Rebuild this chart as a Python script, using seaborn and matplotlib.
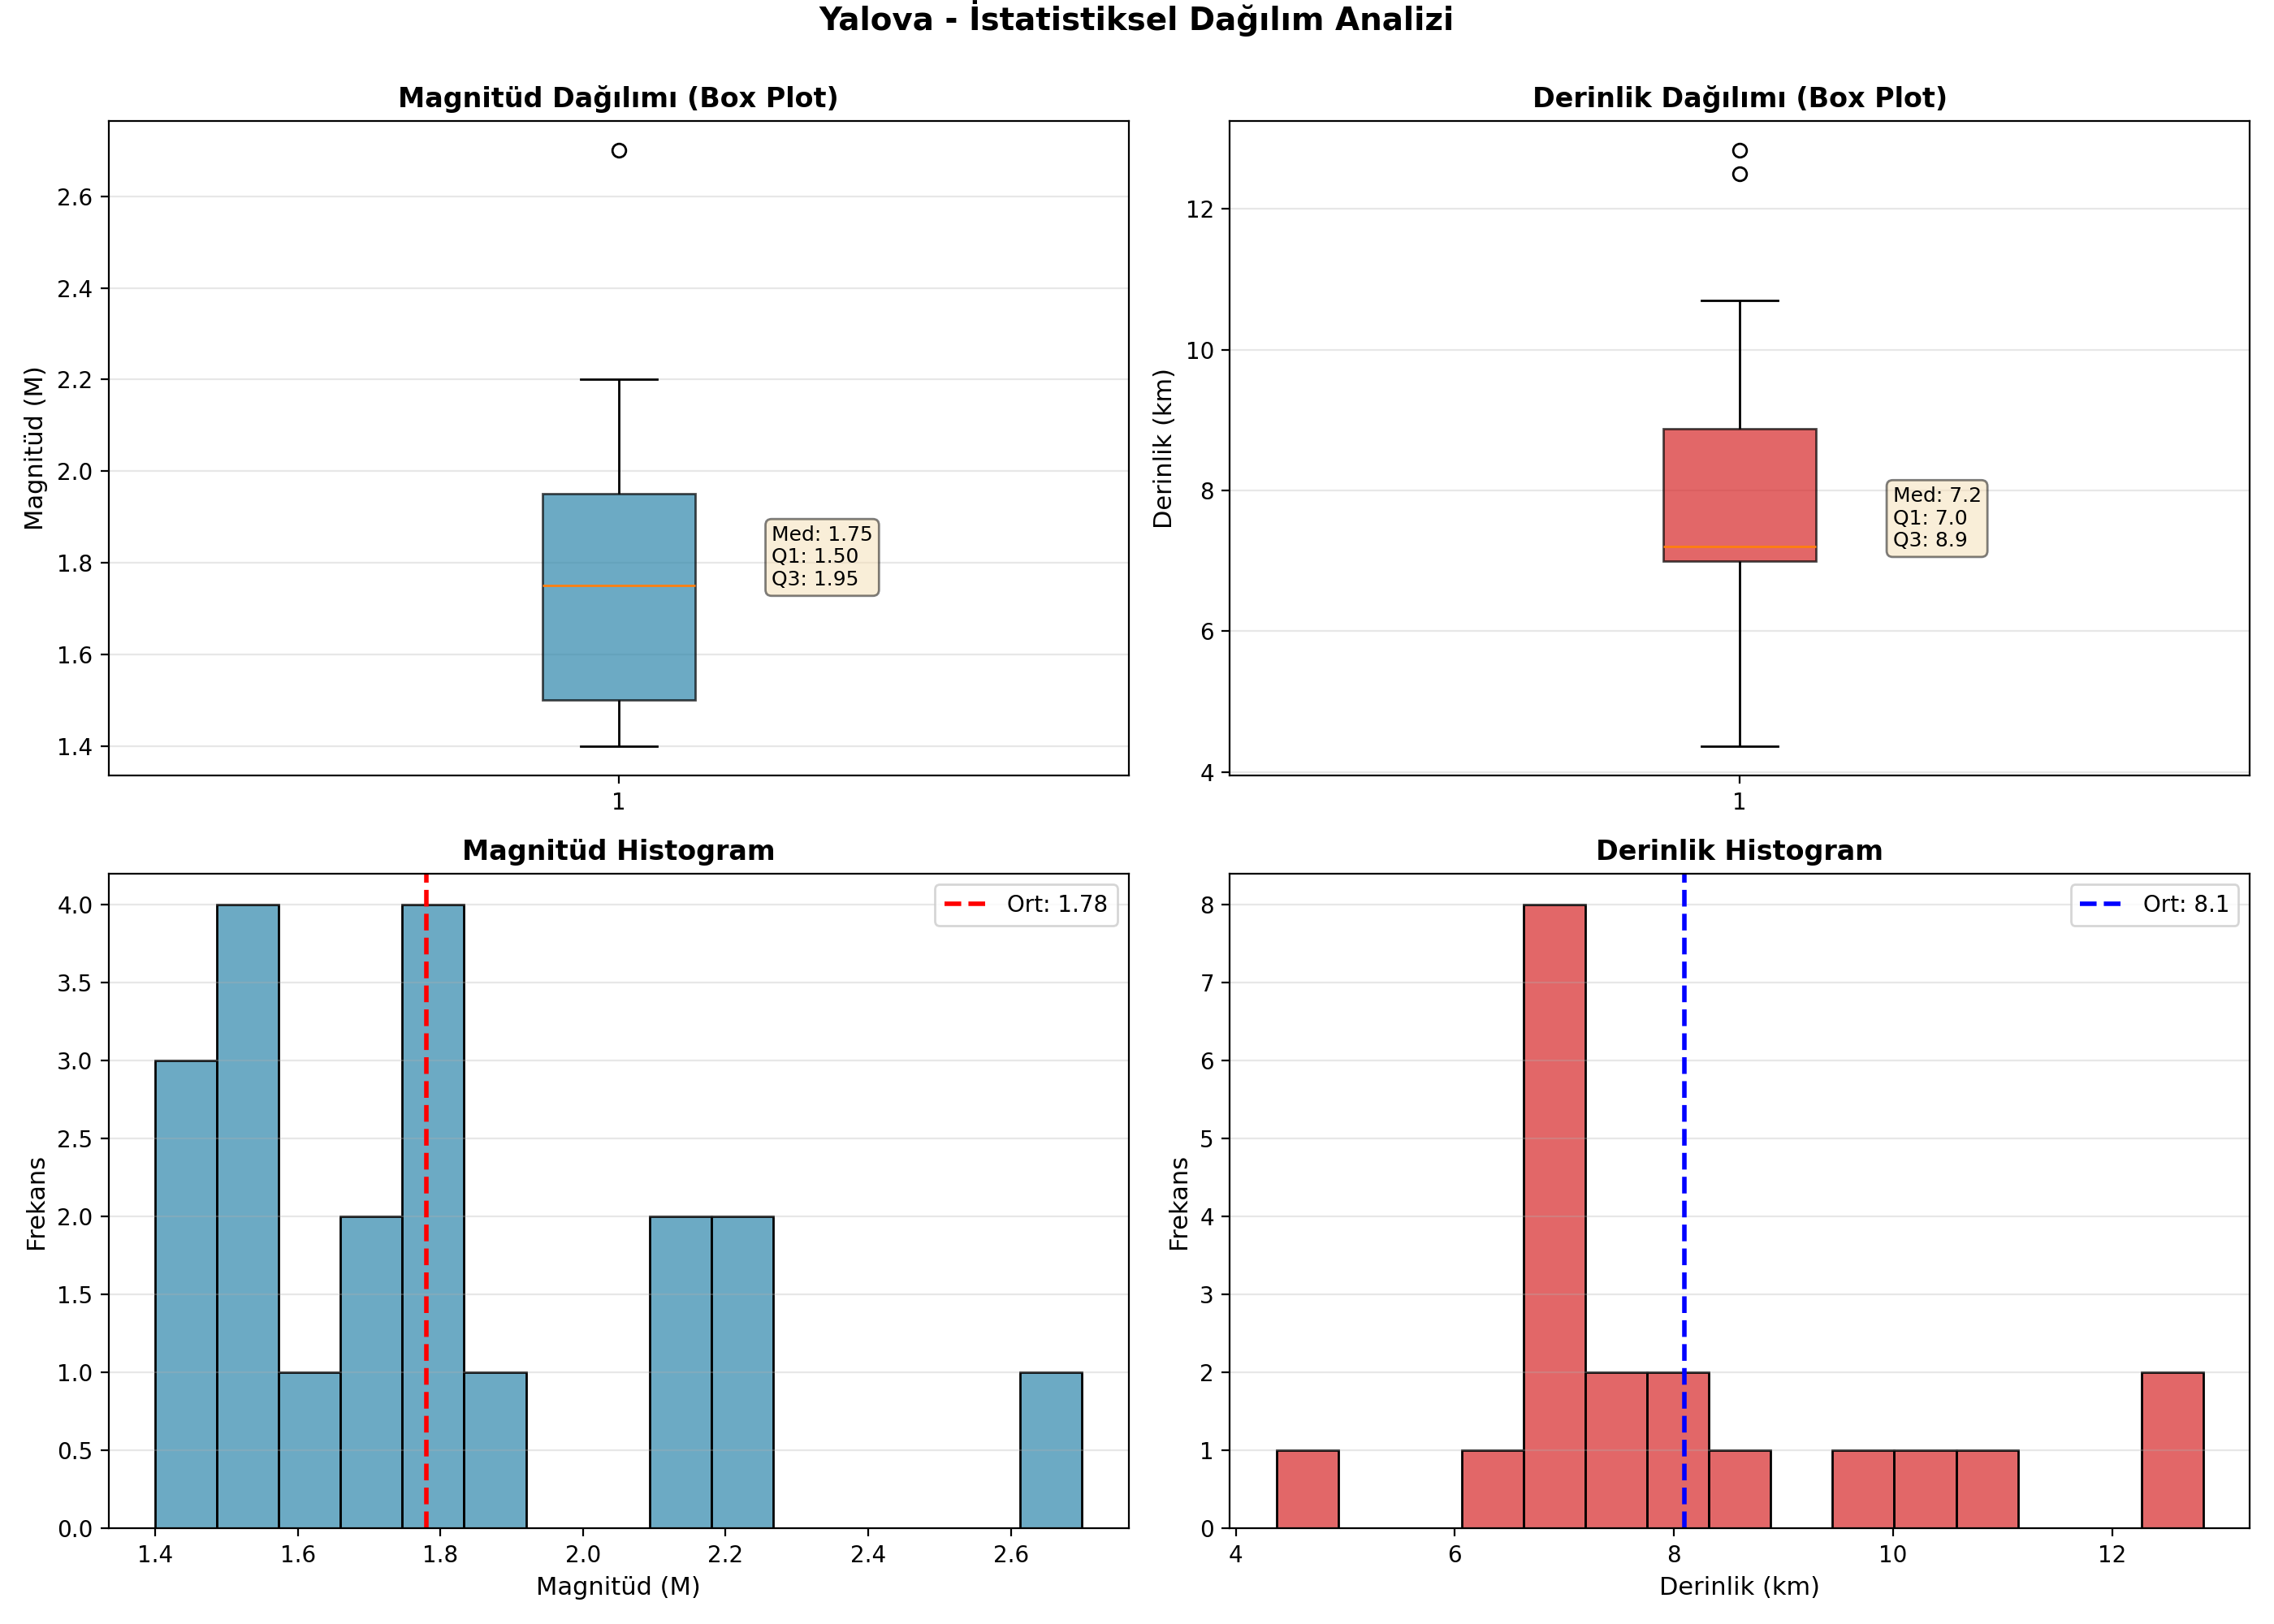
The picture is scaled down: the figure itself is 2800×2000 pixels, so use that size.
import numpy as np
import matplotlib
matplotlib.use("Agg")
import matplotlib.pyplot as plt
import seaborn as sns

# Yalova deprem verisi (20 kayit)
magnitudes = [1.4, 1.4, 1.4, 1.5, 1.5, 1.5, 1.5, 1.6, 1.7, 1.7,
              1.8, 1.8, 1.8, 1.8, 1.9, 2.1, 2.1, 2.2, 2.2, 2.7]
depths = [4.37, 6.3, 6.8, 6.9, 7.0, 7.0, 7.0, 7.0, 7.1, 7.1,
          7.3, 7.5, 7.9, 8.1, 8.6, 9.7, 10.2, 10.7, 12.5, 12.83]

mag_color = '#2E86AB'
dep_color = '#d62728'

mag = np.array(magnitudes)
dep = np.array(depths)

fig, axes = plt.subplots(2, 2, figsize=(14, 10), dpi=200)
fig.suptitle('Yalova - İstatistiksel Dağılım Analizi', fontsize=14, fontweight='bold', y=1.0)


def kutu(ax, data, color, title, ylabel, fmt):
    sns.boxplot(y=data, ax=ax, width=0.15, color=color, saturation=1,
                linecolor='black', linewidth=1, fliersize=6,
                boxprops=dict(alpha=0.7),
                medianprops=dict(color='#ff7f0e', linewidth=1),
                flierprops=dict(marker='o', markerfacecolor='none', markeredgecolor='black'))
    ax.set_xticks([0])
    ax.set_xticklabels(['1'])
    ax.set_xlim(-0.5, 0.5)
    ax.set_title(title, fontsize=12, fontweight='bold')
    ax.set_ylabel(ylabel, fontsize=11)
    ax.grid(True, axis='y', alpha=0.3)
    q1, med, q3 = np.percentile(data, [25, 50, 75])
    ax.text(0.15, med, f'Med: {med:{fmt}}\nQ1: {q1:{fmt}}\nQ3: {q3:{fmt}}', fontsize=9,
            bbox=dict(boxstyle='round', facecolor='wheat', alpha=0.5))


def histo(ax, data, color, line_color, title, xlabel, fmt):
    sns.histplot(x=data, bins=15, ax=ax, color=color, alpha=0.7,
                 edgecolor='black', linewidth=1)
    ax.axvline(data.mean(), color=line_color, linestyle='--', linewidth=2,
               label=f'Ort: {data.mean():{fmt}}')
    ax.set_title(title, fontsize=12, fontweight='bold')
    ax.set_xlabel(xlabel, fontsize=11)
    ax.set_ylabel('Frekans', fontsize=11)
    ax.legend(loc='upper right')
    ax.grid(True, axis='y', alpha=0.3)


kutu(axes[0, 0], mag, mag_color, 'Magnitüd Dağılımı (Box Plot)', 'Magnitüd (M)', '.2f')
kutu(axes[0, 1], dep, dep_color, 'Derinlik Dağılımı (Box Plot)', 'Derinlik (km)', '.1f')
histo(axes[1, 0], mag, mag_color, 'red', 'Magnitüd Histogram', 'Magnitüd (M)', '.2f')
histo(axes[1, 1], dep, dep_color, 'blue', 'Derinlik Histogram', 'Derinlik (km)', '.1f')

plt.tight_layout()
plt.savefig('out.png', dpi=200)
